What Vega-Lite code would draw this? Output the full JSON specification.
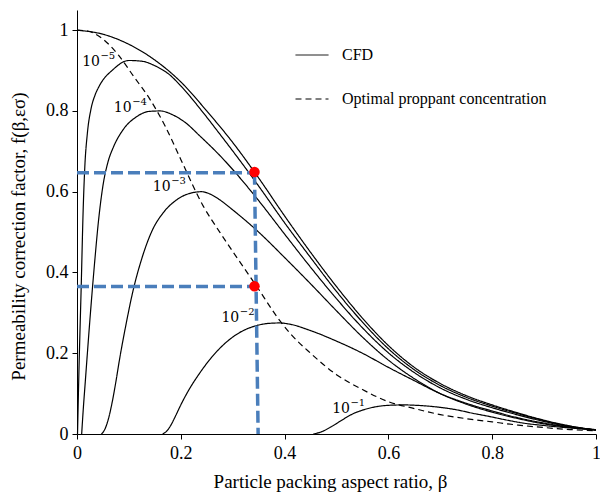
{
  "$schema": "https://vega.github.io/schema/vega-lite/v6.json",
  "width": 519,
  "height": 424,
  "autosize": {"type": "none"},
  "padding": {"left": 77, "top": 10, "right": 4, "bottom": 59},
  "background": "white",
  "config": {
    "view": {"stroke": null},
    "axis": {
      "grid": false,
      "domainColor": "black",
      "tickColor": "black",
      "labelColor": "black",
      "titleColor": "black",
      "labelFont": "Liberation Serif",
      "titleFont": "Liberation Serif",
      "labelFontSize": 18,
      "titleFontSize": 19,
      "titleFontWeight": "normal",
      "tickSize": 5,
      "labelFlush": false
    }
  },
  "datasets": {
    "curves": [
      {"c": "top", "t": "CFD", "b": 0, "f": 1.0},
      {"c": "top", "t": "CFD", "b": 0.05, "f": 0.99},
      {"c": "top", "t": "CFD", "b": 0.1, "f": 0.965},
      {"c": "top", "t": "CFD", "b": 0.15, "f": 0.926},
      {"c": "top", "t": "CFD", "b": 0.2, "f": 0.872},
      {"c": "top", "t": "CFD", "b": 0.25, "f": 0.8},
      {"c": "top", "t": "CFD", "b": 0.3, "f": 0.722},
      {"c": "top", "t": "CFD", "b": 0.35, "f": 0.634},
      {"c": "top", "t": "CFD", "b": 0.4, "f": 0.54},
      {"c": "top", "t": "CFD", "b": 0.45, "f": 0.45},
      {"c": "top", "t": "CFD", "b": 0.5, "f": 0.365},
      {"c": "top", "t": "CFD", "b": 0.55, "f": 0.287},
      {"c": "top", "t": "CFD", "b": 0.6, "f": 0.219},
      {"c": "top", "t": "CFD", "b": 0.65, "f": 0.165},
      {"c": "top", "t": "CFD", "b": 0.7, "f": 0.125},
      {"c": "top", "t": "CFD", "b": 0.75, "f": 0.095},
      {"c": "top", "t": "CFD", "b": 0.8, "f": 0.072},
      {"c": "top", "t": "CFD", "b": 0.85, "f": 0.052},
      {"c": "top", "t": "CFD", "b": 0.9, "f": 0.034},
      {"c": "top", "t": "CFD", "b": 0.95, "f": 0.02},
      {"c": "top", "t": "CFD", "b": 1.0, "f": 0.01},

      {"c": "e5", "t": "CFD", "b": 0.001, "f": 0.0},
      {"c": "e5", "t": "CFD", "b": 0.004, "f": 0.17},
      {"c": "e5", "t": "CFD", "b": 0.008, "f": 0.36},
      {"c": "e5", "t": "CFD", "b": 0.012, "f": 0.56},
      {"c": "e5", "t": "CFD", "b": 0.015, "f": 0.66},
      {"c": "e5", "t": "CFD", "b": 0.02, "f": 0.745},
      {"c": "e5", "t": "CFD", "b": 0.027, "f": 0.805},
      {"c": "e5", "t": "CFD", "b": 0.035, "f": 0.84},
      {"c": "e5", "t": "CFD", "b": 0.043, "f": 0.862},
      {"c": "e5", "t": "CFD", "b": 0.069, "f": 0.902},
      {"c": "e5", "t": "CFD", "b": 0.1, "f": 0.925},
      {"c": "e5", "t": "CFD", "b": 0.126, "f": 0.923},
      {"c": "e5", "t": "CFD", "b": 0.15, "f": 0.912},
      {"c": "e5", "t": "CFD", "b": 0.178, "f": 0.89},
      {"c": "e5", "t": "CFD", "b": 0.2, "f": 0.862},
      {"c": "e5", "t": "CFD", "b": 0.243, "f": 0.796},
      {"c": "e5", "t": "CFD", "b": 0.275, "f": 0.743},
      {"c": "e5", "t": "CFD", "b": 0.3, "f": 0.701},
      {"c": "e5", "t": "CFD", "b": 0.35, "f": 0.614},
      {"c": "e5", "t": "CFD", "b": 0.4, "f": 0.523},
      {"c": "e5", "t": "CFD", "b": 0.45, "f": 0.437},
      {"c": "e5", "t": "CFD", "b": 0.5, "f": 0.353},
      {"c": "e5", "t": "CFD", "b": 0.55, "f": 0.277},
      {"c": "e5", "t": "CFD", "b": 0.6, "f": 0.211},
      {"c": "e5", "t": "CFD", "b": 0.65, "f": 0.159},
      {"c": "e5", "t": "CFD", "b": 0.7, "f": 0.12},
      {"c": "e5", "t": "CFD", "b": 0.75, "f": 0.091},
      {"c": "e5", "t": "CFD", "b": 0.8, "f": 0.069},
      {"c": "e5", "t": "CFD", "b": 0.85, "f": 0.05},
      {"c": "e5", "t": "CFD", "b": 0.9, "f": 0.033},
      {"c": "e5", "t": "CFD", "b": 0.95, "f": 0.019},
      {"c": "e5", "t": "CFD", "b": 1.0, "f": 0.01},

      {"c": "e4", "t": "CFD", "b": 0.009, "f": 0.0},
      {"c": "e4", "t": "CFD", "b": 0.012, "f": 0.06},
      {"c": "e4", "t": "CFD", "b": 0.016, "f": 0.13},
      {"c": "e4", "t": "CFD", "b": 0.02, "f": 0.2},
      {"c": "e4", "t": "CFD", "b": 0.025, "f": 0.285},
      {"c": "e4", "t": "CFD", "b": 0.03, "f": 0.365},
      {"c": "e4", "t": "CFD", "b": 0.035, "f": 0.44},
      {"c": "e4", "t": "CFD", "b": 0.04, "f": 0.51},
      {"c": "e4", "t": "CFD", "b": 0.05, "f": 0.615},
      {"c": "e4", "t": "CFD", "b": 0.06, "f": 0.675},
      {"c": "e4", "t": "CFD", "b": 0.07, "f": 0.71},
      {"c": "e4", "t": "CFD", "b": 0.088, "f": 0.752},
      {"c": "e4", "t": "CFD", "b": 0.114, "f": 0.785},
      {"c": "e4", "t": "CFD", "b": 0.14, "f": 0.799},
      {"c": "e4", "t": "CFD", "b": 0.16, "f": 0.8},
      {"c": "e4", "t": "CFD", "b": 0.185, "f": 0.79},
      {"c": "e4", "t": "CFD", "b": 0.21, "f": 0.77},
      {"c": "e4", "t": "CFD", "b": 0.236, "f": 0.739},
      {"c": "e4", "t": "CFD", "b": 0.275, "f": 0.69},
      {"c": "e4", "t": "CFD", "b": 0.3, "f": 0.655},
      {"c": "e4", "t": "CFD", "b": 0.35, "f": 0.578},
      {"c": "e4", "t": "CFD", "b": 0.4, "f": 0.495},
      {"c": "e4", "t": "CFD", "b": 0.45, "f": 0.413},
      {"c": "e4", "t": "CFD", "b": 0.5, "f": 0.335},
      {"c": "e4", "t": "CFD", "b": 0.55, "f": 0.263},
      {"c": "e4", "t": "CFD", "b": 0.6, "f": 0.201},
      {"c": "e4", "t": "CFD", "b": 0.65, "f": 0.152},
      {"c": "e4", "t": "CFD", "b": 0.7, "f": 0.114},
      {"c": "e4", "t": "CFD", "b": 0.75, "f": 0.086},
      {"c": "e4", "t": "CFD", "b": 0.8, "f": 0.065},
      {"c": "e4", "t": "CFD", "b": 0.85, "f": 0.047},
      {"c": "e4", "t": "CFD", "b": 0.9, "f": 0.031},
      {"c": "e4", "t": "CFD", "b": 0.95, "f": 0.018},
      {"c": "e4", "t": "CFD", "b": 1.0, "f": 0.01},

      {"c": "e3", "t": "CFD", "b": 0.047, "f": 0.0},
      {"c": "e3", "t": "CFD", "b": 0.053, "f": 0.01},
      {"c": "e3", "t": "CFD", "b": 0.06, "f": 0.035},
      {"c": "e3", "t": "CFD", "b": 0.068, "f": 0.08},
      {"c": "e3", "t": "CFD", "b": 0.075, "f": 0.13},
      {"c": "e3", "t": "CFD", "b": 0.082, "f": 0.185},
      {"c": "e3", "t": "CFD", "b": 0.095, "f": 0.275},
      {"c": "e3", "t": "CFD", "b": 0.108, "f": 0.355},
      {"c": "e3", "t": "CFD", "b": 0.125, "f": 0.435},
      {"c": "e3", "t": "CFD", "b": 0.146, "f": 0.507},
      {"c": "e3", "t": "CFD", "b": 0.165, "f": 0.546},
      {"c": "e3", "t": "CFD", "b": 0.19, "f": 0.578},
      {"c": "e3", "t": "CFD", "b": 0.215, "f": 0.595},
      {"c": "e3", "t": "CFD", "b": 0.24, "f": 0.6},
      {"c": "e3", "t": "CFD", "b": 0.26, "f": 0.592},
      {"c": "e3", "t": "CFD", "b": 0.275, "f": 0.58},
      {"c": "e3", "t": "CFD", "b": 0.3, "f": 0.555},
      {"c": "e3", "t": "CFD", "b": 0.35, "f": 0.5},
      {"c": "e3", "t": "CFD", "b": 0.4, "f": 0.437},
      {"c": "e3", "t": "CFD", "b": 0.45, "f": 0.372},
      {"c": "e3", "t": "CFD", "b": 0.5, "f": 0.305},
      {"c": "e3", "t": "CFD", "b": 0.55, "f": 0.24},
      {"c": "e3", "t": "CFD", "b": 0.6, "f": 0.183},
      {"c": "e3", "t": "CFD", "b": 0.65, "f": 0.137},
      {"c": "e3", "t": "CFD", "b": 0.7, "f": 0.1},
      {"c": "e3", "t": "CFD", "b": 0.75, "f": 0.074},
      {"c": "e3", "t": "CFD", "b": 0.8, "f": 0.054},
      {"c": "e3", "t": "CFD", "b": 0.85, "f": 0.038},
      {"c": "e3", "t": "CFD", "b": 0.9, "f": 0.025},
      {"c": "e3", "t": "CFD", "b": 0.95, "f": 0.016},
      {"c": "e3", "t": "CFD", "b": 1.0, "f": 0.01},

      {"c": "e2", "t": "CFD", "b": 0.165, "f": 0.0},
      {"c": "e2", "t": "CFD", "b": 0.172, "f": 0.006},
      {"c": "e2", "t": "CFD", "b": 0.18, "f": 0.02},
      {"c": "e2", "t": "CFD", "b": 0.19, "f": 0.045},
      {"c": "e2", "t": "CFD", "b": 0.2, "f": 0.072},
      {"c": "e2", "t": "CFD", "b": 0.215, "f": 0.108},
      {"c": "e2", "t": "CFD", "b": 0.236, "f": 0.15},
      {"c": "e2", "t": "CFD", "b": 0.255, "f": 0.183},
      {"c": "e2", "t": "CFD", "b": 0.275, "f": 0.212},
      {"c": "e2", "t": "CFD", "b": 0.3, "f": 0.24},
      {"c": "e2", "t": "CFD", "b": 0.313, "f": 0.251},
      {"c": "e2", "t": "CFD", "b": 0.342, "f": 0.267},
      {"c": "e2", "t": "CFD", "b": 0.37, "f": 0.274},
      {"c": "e2", "t": "CFD", "b": 0.39, "f": 0.275},
      {"c": "e2", "t": "CFD", "b": 0.41, "f": 0.272},
      {"c": "e2", "t": "CFD", "b": 0.448, "f": 0.257},
      {"c": "e2", "t": "CFD", "b": 0.5, "f": 0.23},
      {"c": "e2", "t": "CFD", "b": 0.55, "f": 0.2},
      {"c": "e2", "t": "CFD", "b": 0.6, "f": 0.165},
      {"c": "e2", "t": "CFD", "b": 0.65, "f": 0.132},
      {"c": "e2", "t": "CFD", "b": 0.7, "f": 0.1},
      {"c": "e2", "t": "CFD", "b": 0.75, "f": 0.076},
      {"c": "e2", "t": "CFD", "b": 0.8, "f": 0.057},
      {"c": "e2", "t": "CFD", "b": 0.85, "f": 0.04},
      {"c": "e2", "t": "CFD", "b": 0.9, "f": 0.027},
      {"c": "e2", "t": "CFD", "b": 0.95, "f": 0.017},
      {"c": "e2", "t": "CFD", "b": 1.0, "f": 0.01},

      {"c": "e1", "t": "CFD", "b": 0.455, "f": 0.0},
      {"c": "e1", "t": "CFD", "b": 0.472, "f": 0.006},
      {"c": "e1", "t": "CFD", "b": 0.49, "f": 0.018},
      {"c": "e1", "t": "CFD", "b": 0.51, "f": 0.034},
      {"c": "e1", "t": "CFD", "b": 0.53, "f": 0.049},
      {"c": "e1", "t": "CFD", "b": 0.55, "f": 0.059},
      {"c": "e1", "t": "CFD", "b": 0.57, "f": 0.066},
      {"c": "e1", "t": "CFD", "b": 0.6, "f": 0.071},
      {"c": "e1", "t": "CFD", "b": 0.63, "f": 0.072},
      {"c": "e1", "t": "CFD", "b": 0.667, "f": 0.07},
      {"c": "e1", "t": "CFD", "b": 0.7, "f": 0.066},
      {"c": "e1", "t": "CFD", "b": 0.731, "f": 0.06},
      {"c": "e1", "t": "CFD", "b": 0.76, "f": 0.052},
      {"c": "e1", "t": "CFD", "b": 0.796, "f": 0.043},
      {"c": "e1", "t": "CFD", "b": 0.83, "f": 0.034},
      {"c": "e1", "t": "CFD", "b": 0.86, "f": 0.027},
      {"c": "e1", "t": "CFD", "b": 0.9, "f": 0.021},
      {"c": "e1", "t": "CFD", "b": 0.95, "f": 0.015},
      {"c": "e1", "t": "CFD", "b": 1.0, "f": 0.011},

      {"c": "opt", "t": "Optimal proppant concentration", "b": 0, "f": 1.0},
      {"c": "opt", "t": "Optimal proppant concentration", "b": 0.02, "f": 0.998},
      {"c": "opt", "t": "Optimal proppant concentration", "b": 0.05, "f": 0.978},
      {"c": "opt", "t": "Optimal proppant concentration", "b": 0.08, "f": 0.938},
      {"c": "opt", "t": "Optimal proppant concentration", "b": 0.11, "f": 0.884},
      {"c": "opt", "t": "Optimal proppant concentration", "b": 0.14, "f": 0.83},
      {"c": "opt", "t": "Optimal proppant concentration", "b": 0.17, "f": 0.762},
      {"c": "opt", "t": "Optimal proppant concentration", "b": 0.2, "f": 0.68},
      {"c": "opt", "t": "Optimal proppant concentration", "b": 0.243, "f": 0.565},
      {"c": "opt", "t": "Optimal proppant concentration", "b": 0.275, "f": 0.5},
      {"c": "opt", "t": "Optimal proppant concentration", "b": 0.3, "f": 0.452},
      {"c": "opt", "t": "Optimal proppant concentration", "b": 0.345, "f": 0.368},
      {"c": "opt", "t": "Optimal proppant concentration", "b": 0.39, "f": 0.282},
      {"c": "opt", "t": "Optimal proppant concentration", "b": 0.41, "f": 0.25},
      {"c": "opt", "t": "Optimal proppant concentration", "b": 0.45, "f": 0.2},
      {"c": "opt", "t": "Optimal proppant concentration", "b": 0.5, "f": 0.147},
      {"c": "opt", "t": "Optimal proppant concentration", "b": 0.55, "f": 0.11},
      {"c": "opt", "t": "Optimal proppant concentration", "b": 0.6, "f": 0.08},
      {"c": "opt", "t": "Optimal proppant concentration", "b": 0.65, "f": 0.063},
      {"c": "opt", "t": "Optimal proppant concentration", "b": 0.7, "f": 0.048},
      {"c": "opt", "t": "Optimal proppant concentration", "b": 0.75, "f": 0.038},
      {"c": "opt", "t": "Optimal proppant concentration", "b": 0.8, "f": 0.03},
      {"c": "opt", "t": "Optimal proppant concentration", "b": 0.85, "f": 0.022},
      {"c": "opt", "t": "Optimal proppant concentration", "b": 0.9, "f": 0.016},
      {"c": "opt", "t": "Optimal proppant concentration", "b": 0.95, "f": 0.011},
      {"c": "opt", "t": "Optimal proppant concentration", "b": 1.0, "f": 0.008}
    ],
    "guides": [
      {"seg": "h1", "b": 0, "f": 0.647},
      {"seg": "h1", "b": 0.342, "f": 0.647},
      {"seg": "h2", "b": 0, "f": 0.365},
      {"seg": "h2", "b": 0.342, "f": 0.365},
      {"seg": "v", "b": 0.342, "f": 0.647},
      {"seg": "v", "b": 0.349, "f": 0.0}
    ],
    "dots": [
      {"b": 0.342, "f": 0.649},
      {"b": 0.342, "f": 0.366}
    ],
    "labels": [
      {"b": 0.0443, "f": 0.921, "base": "10", "exp": "−5"},
      {"b": 0.1054, "f": 0.807, "base": "10", "exp": "−4"},
      {"b": 0.1805, "f": 0.612, "base": "10", "exp": "−3"},
      {"b": 0.3127, "f": 0.2885, "base": "10", "exp": "−2"},
      {"b": 0.526, "f": 0.062, "base": "10", "exp": "−1"}
    ]
  },
  "layer": [
    {
      "data": {"name": "curves"},
      "mark": {"type": "line", "color": "black", "strokeWidth": 1.2, "interpolate": "monotone"},
      "encoding": {
        "x": {
          "field": "b", "type": "quantitative",
          "scale": {"domain": [0, 1], "nice": false, "zero": false},
          "axis": {
            "values": [0, 0.2, 0.4, 0.6, 0.8, 1], "format": "~g",
            "title": "Particle packing aspect ratio, β",
            "titleX": 253, "titleY": 53, "titleAlign": "center", "titleBaseline": "alphabetic",
            "labelPadding": 5
          }
        },
        "y": {
          "field": "f", "type": "quantitative",
          "scale": {"domain": [0, 1.05], "nice": false},
          "axis": {
            "values": [0, 0.2, 0.4, 0.6, 0.8, 1], "format": "~g",
            "title": "Permeability correction factor, f(β,εσ)",
            "titleX": -53, "titleY": 226, "titleAngle": -90, "titleAlign": "center", "titleBaseline": "alphabetic",
            "labelPadding": 4
          }
        },
        "detail": {"field": "c"},
        "strokeDash": {
          "field": "t", "type": "nominal",
          "scale": {"domain": ["CFD", "Optimal proppant concentration"], "range": [[1, 0], [6, 4]]},
          "legend": {
            "title": null, "orient": "none", "legendX": 218, "legendY": 28,
            "symbolType": "stroke", "symbolSize": 1089, "symbolStrokeWidth": 1, "symbolStrokeColor": "black",
            "labelFont": "Liberation Serif", "labelFontSize": 16, "labelColor": "black", "labelLimit": 400,
            "labelOffset": 13, "rowPadding": 19, "padding": 0
          }
        }
      }
    },
    {
      "data": {"name": "guides"},
      "mark": {"type": "line", "color": "#4A7EBB", "strokeWidth": 3.5, "strokeDash": [12, 5]},
      "encoding": {
        "x": {"field": "b", "type": "quantitative"},
        "y": {"field": "f", "type": "quantitative"},
        "detail": {"field": "seg"}
      }
    },
    {
      "data": {"name": "dots"},
      "mark": {"type": "circle", "color": "#FF0000", "size": 110, "opacity": 1},
      "encoding": {
        "x": {"field": "b", "type": "quantitative"},
        "y": {"field": "f", "type": "quantitative"}
      }
    },
    {
      "data": {"name": "labels"},
      "mark": {"type": "text", "font": "DejaVu Serif", "fontSize": 14, "color": "black", "align": "right", "baseline": "middle"},
      "encoding": {
        "x": {"field": "b", "type": "quantitative"},
        "y": {"field": "f", "type": "quantitative"},
        "text": {"field": "base"}
      }
    },
    {
      "data": {"name": "labels"},
      "mark": {"type": "text", "font": "DejaVu Serif", "fontSize": 10, "color": "black", "align": "left", "baseline": "middle", "dx": 0.5, "dy": -6},
      "encoding": {
        "x": {"field": "b", "type": "quantitative"},
        "y": {"field": "f", "type": "quantitative"},
        "text": {"field": "exp"}
      }
    }
  ]
}
